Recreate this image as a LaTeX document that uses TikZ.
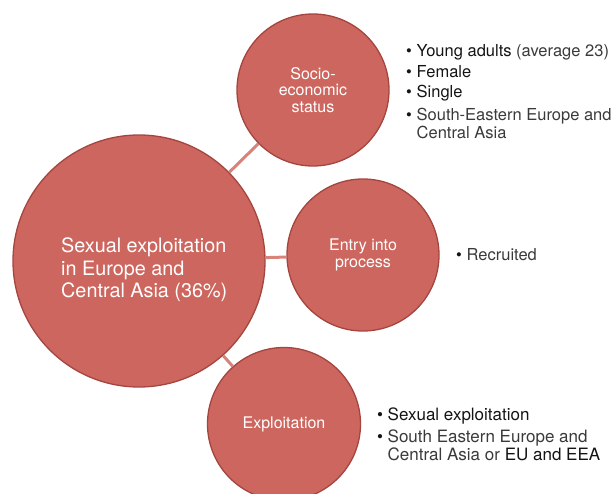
\documentclass[tikz,border=0pt]{standalone}
\usepackage{fontspec}
\setmainfont{TeX Gyre Heros}
\definecolor{circfill}{HTML}{CD665E}
\definecolor{circline}{HTML}{A4453F}
\definecolor{conn}{HTML}{D7837B}
\definecolor{txtdark}{HTML}{141414}
\definecolor{txtgray}{HTML}{3A3A3A}
\newcommand\mybul{\makebox[10.5pt][l]{\textcolor{txtdark}{\textbullet}}}
\begin{document}
\begin{tikzpicture}[x=1pt,y=-1pt,
  bubble/.style={circle, fill=circfill, draw=circline, line width=1.3pt, inner sep=0pt,
    text=white, align=center, font=\fontsize{16}{16.7}\selectfont},
  link/.style={draw=conn, line width=3pt},
  listtxt/.style={align=left, inner sep=0pt, text=txtgray},
  bigtxt/.style={align=left, inner sep=0pt, text=white, font=\fontsize{19.8}{22.5}\selectfont}]
\useasboundingbox (0,0) rectangle (615,494);
\clip (0,0) rectangle (615,494);
% circles
\node[bubble, minimum size=252pt] (big) at (139,261) {};
\node[bubble, minimum size=152pt] (socio) at (313,90) {Socio-\\economic\\status};
\node[bubble, minimum size=152pt] (entry) at (363,255) {Entry into\\process};
\node[bubble, minimum size=153pt] (expl) at (284,424) {Exploitation};
% connectors
\draw[link] (big) -- (socio);
\draw[link] (big) -- (entry);
\draw[link] (big) -- (expl);
% big text
\node[bigtxt, anchor=north west] (bigtext) at (61,237.8)
  {Sexual exploitation\\in Europe and\\Central Asia (36\%)};
% lists
\node[listtxt, anchor=north west, font=\fontsize{16.5}{18.5}\selectfont] (sociolist) at (406,43.8)
  {{\color{txtdark}\mybul Young adults} (average 23)\\[2.5pt]
   {\color{txtdark}\mybul Female}\\[2pt]
   {\color{txtdark}\mybul Single}\\[4pt]
   \mybul South-Eastern Europe and\\
   \hspace*{10.5pt}Central Asia};
\node[listtxt, anchor=base west, font=\fontsize{16.5}{18.5}\selectfont] (entrylist) at (456,260.7)
  {\mybul Recruited};
\node[listtxt, anchor=north west, font=\fontsize{17}{18.5}\selectfont] (expllist) at (377,407.8)
  {{\color{txtdark}\mybul Sexual exploitation}\\[3pt]
   \mybul South Eastern Europe and\\
   \hspace*{10.5pt}Central Asia or {\color{txtdark}EU and EEA}};
\end{tikzpicture}
\end{document}
